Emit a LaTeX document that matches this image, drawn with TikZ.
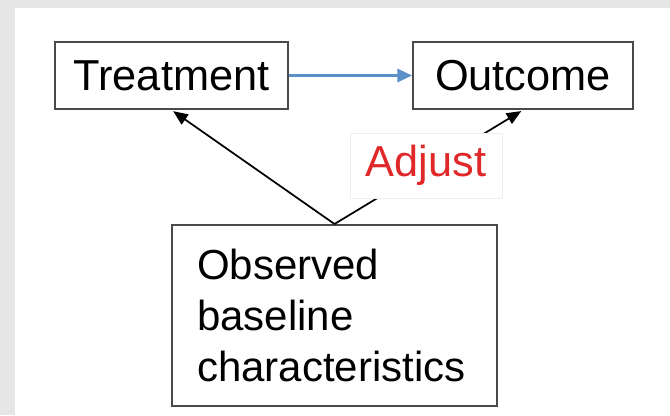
\documentclass[tikz,border=0pt]{standalone}
\usepackage{fontspec}
\setmainfont{Liberation Sans}
\usetikzlibrary{arrows.meta}
\definecolor{pagegray}{HTML}{E6E6E6}
\definecolor{boxline}{HTML}{4A4A4A}
\definecolor{flowblue}{HTML}{5B8FC7}
\definecolor{adjred}{HTML}{E02828}
\definecolor{faintline}{HTML}{EFEFEF}
\begin{document}
\begin{tikzpicture}[x=0.75pt,y=-0.75pt,
  box/.style={draw=boxline,line width=1.5pt,fill=white,inner sep=0pt,
    font=\fontsize{32.5}{40}\selectfont},
  link/.style={line width=1.3pt,shorten >=1.5pt,-{Triangle[length=11pt,width=9pt]}},
  flow/.style={draw=flowblue,line width=1.6pt,-{Triangle[length=11pt,width=10pt]}}]
  % page background and white panel
  \fill[pagegray] (0,0) rectangle (670,415);
  \fill[white] (15,8) rectangle (670,415);
  \useasboundingbox (0,0) rectangle (670,415);
  % nodes
  \node[box,minimum width=174.75pt,minimum height=50.25pt] (treat) at (171.5,75.5) {Treatment};
  \node[box,minimum width=165pt,minimum height=50.25pt] (out) at (523,75.5) {Outcome};
  \node[box,minimum width=243.75pt,minimum height=135.75pt,text width=206pt,
    align=left,inner xsep=18.5pt,font=\fontsize{31.5}{38.5}\selectfont] (obs) at (334.5,315.5)
    {Observed\\baseline\\characteristics};
  % connectors
  \draw[flow] (treat.east) -- (out.west);
  \draw[link] (obs.north) -- (treat.south);
  \draw[link] (obs.north) -- (out.south);
  % label over the adjustment path
  \node[draw=faintline,fill=white,minimum width=114pt,minimum height=48.75pt,
    text=adjred,font=\fontsize{32.5}{40}\selectfont] (adj) at (426,165.5) {Adjust};
\end{tikzpicture}
\end{document}
